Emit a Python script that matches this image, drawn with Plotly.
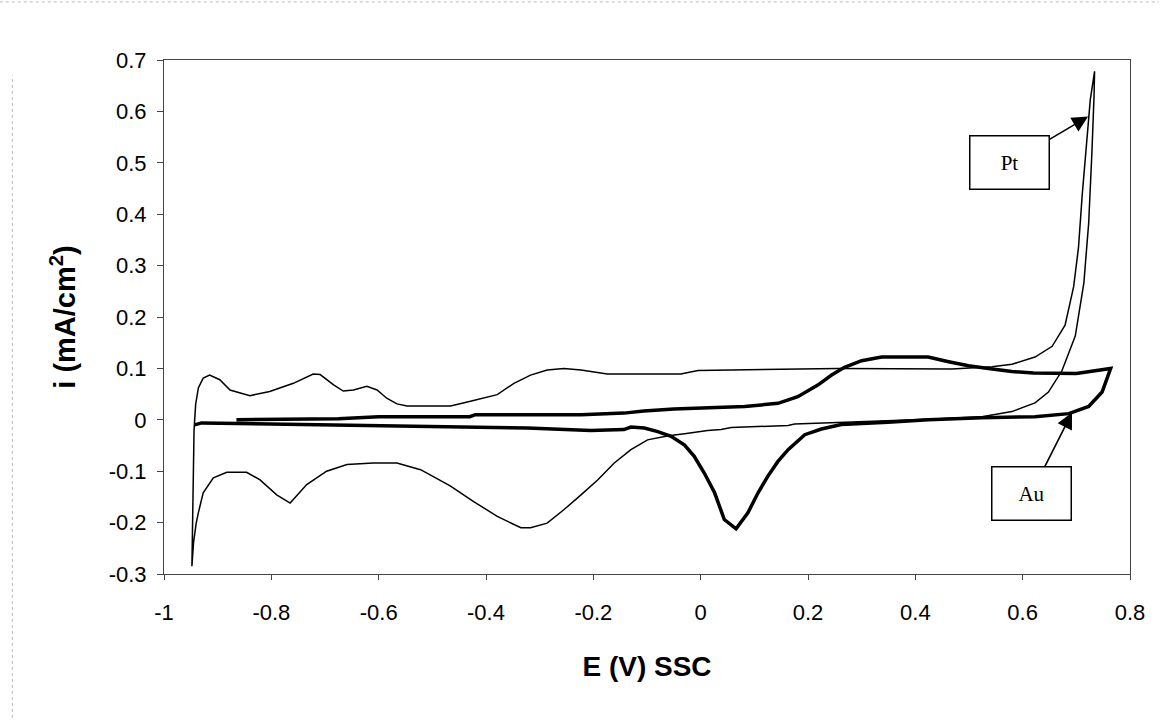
import plotly.graph_objects as go

# ---- data ----
pt_E = [-0.948, -0.947, -0.946, -0.944, -0.941, -0.936, -0.927, -0.915, -0.896, -0.877,
        -0.840, -0.803, -0.759, -0.722, -0.709, -0.684, -0.666, -0.647, -0.622, -0.603,
        -0.585, -0.566, -0.547, -0.504, -0.466, -0.429, -0.379, -0.348, -0.317, -0.286,
        -0.255, -0.223, -0.174, -0.037, -0.005, 0.057, 0.256, 0.468, 0.543, 0.580,
        0.600, 0.623, 0.655, 0.679, 0.695, 0.704, 0.711, 0.720, 0.726, 0.734,
        0.733, 0.729, 0.723, 0.714, 0.698, 0.673, 0.648, 0.623, 0.580, 0.524,
        0.424, 0.268, 0.175, 0.163, 0.057, 0.038, 0.013, -0.030, -0.060, -0.099,
        -0.130, -0.161, -0.192, -0.223, -0.255, -0.286, -0.317, -0.335, -0.379, -0.423,
        -0.466, -0.504, -0.522, -0.566, -0.610, -0.659, -0.697, -0.734, -0.765, -0.790,
        -0.821, -0.846, -0.883, -0.908, -0.927, -0.936, -0.940, -0.945, -0.948]
pt_i = [-0.285, -0.200, -0.100, -0.020, 0.030, 0.062, 0.081, 0.087, 0.078, 0.058,
        0.047, 0.055, 0.071, 0.089, 0.088, 0.068, 0.056, 0.058, 0.065, 0.058,
        0.042, 0.031, 0.027, 0.027, 0.027, 0.036, 0.049, 0.071, 0.087, 0.097,
        0.100, 0.097, 0.089, 0.089, 0.096, 0.097, 0.100, 0.099, 0.103, 0.108,
        0.114, 0.122, 0.143, 0.184, 0.259, 0.335, 0.438, 0.541, 0.623, 0.678,
        0.630, 0.520, 0.383, 0.266, 0.163, 0.095, 0.054, 0.033, 0.016, 0.006,
        0.001, -0.005, -0.008, -0.011, -0.015, -0.019, -0.021, -0.027, -0.031, -0.039,
        -0.058, -0.084, -0.117, -0.146, -0.175, -0.201, -0.210, -0.210, -0.188, -0.159,
        -0.129, -0.107, -0.097, -0.084, -0.084, -0.087, -0.100, -0.126, -0.162, -0.146,
        -0.117, -0.102, -0.102, -0.113, -0.142, -0.181, -0.201, -0.239, -0.285]

au_E = [-0.865, -0.675, -0.600, -0.430, -0.420, -0.223, -0.143, -0.106, -0.050, 0.038,
        0.082, 0.144, 0.181, 0.219, 0.244, 0.268, 0.300, 0.337, 0.424, 0.462,
        0.499, 0.536, 0.580, 0.620, 0.700, 0.764, 0.748, 0.723, 0.686, 0.623,
        0.524, 0.424, 0.349, 0.262, 0.225, 0.194, 0.163, 0.144, 0.125, 0.107,
        0.088, 0.066, 0.051, 0.044, 0.026, 0.007, -0.012, -0.030, -0.055, -0.080,
        -0.105, -0.130, -0.143, -0.205, -0.323, -0.563, -0.700, -0.865, -0.930, -0.943]
au_i = [0.000, 0.002, 0.006, 0.006, 0.010, 0.010, 0.013, 0.017, 0.021, 0.025,
        0.026, 0.032, 0.045, 0.068, 0.087, 0.102, 0.115, 0.122, 0.122, 0.113,
        0.105, 0.100, 0.094, 0.091, 0.090, 0.100, 0.054, 0.026, 0.012, 0.006,
        0.004, 0.000, -0.005, -0.009, -0.018, -0.029, -0.058, -0.081, -0.110, -0.142,
        -0.181, -0.212, -0.200, -0.194, -0.142, -0.104, -0.071, -0.049, -0.032, -0.023,
        -0.016, -0.014, -0.019, -0.021, -0.016, -0.012, -0.010, -0.008, -0.006, -0.010]

x_ticks = [-1, -0.8, -0.6, -0.4, -0.2, 0, 0.2, 0.4, 0.6, 0.8]
x_ticktext = ["-1", "-0.8", "-0.6", "-0.4", "-0.2", "0", "0.2", "0.4", "0.6", "0.8"]
y_ticks = [-0.3, -0.2, -0.1, 0, 0.1, 0.2, 0.3, 0.4, 0.5, 0.6, 0.7]
y_ticktext = ["-0.3", "-0.2", "-0.1", "0", "0.1", "0.2", "0.3", "0.4", "0.5", "0.6", "0.7"]

labels = ["Pt", "Au"]
label_pos = [(0.576, 0.50), (0.616, -0.143)]   # box centres (data units)
arrow_tips = [(0.722, 0.590), (0.692, 0.014)]  # arrow heads (data units)

FONT = "Liberation Sans, Arial, sans-serif"

fig = go.Figure()
fig.add_trace(go.Scatter(x=pt_E, y=pt_i, mode="lines", name="Pt",
                         line=dict(color="black", width=1.5), showlegend=False))
fig.add_trace(go.Scatter(x=au_E, y=au_i, mode="lines", name="Au",
                         line=dict(color="black", width=3.5), showlegend=False))

for lab, (bx, by), (tx, ty) in zip(labels, label_pos, arrow_tips):
    fig.add_annotation(x=tx, y=ty, xref="x", yref="y",
                       ax=bx, ay=by, axref="x", ayref="y",
                       text=lab, showarrow=True,
                       arrowhead=2, arrowsize=2.0, arrowwidth=1.6, arrowcolor="black",
                       font=dict(family="Liberation Serif, Times New Roman, serif", size=21, color="black"),
                       bordercolor="black", borderwidth=1.5, borderpad=1,
                       width=76, height=50, bgcolor="white")

# faint scan border artifacts
fig.add_shape(type="line", xref="paper", yref="paper",
              x0=-0.17, x1=1.03, y0=1.113, y1=1.113,
              line=dict(color="#bbbbbb", width=1, dash="dot"))
fig.add_shape(type="line", xref="paper", yref="paper",
              x0=-0.157, x1=-0.157, y0=-0.28, y1=0.97,
              line=dict(color="#bbbbbb", width=1, dash="dot"))

fig.update_layout(
    width=1161, height=720,
    margin=dict(l=164, r=31, t=60, b=146),
    paper_bgcolor="white", plot_bgcolor="white",
    font=dict(family=FONT, color="black"),
    xaxis=dict(range=[-1, 0.8], tickvals=x_ticks, ticktext=x_ticktext,
               ticks="outside", ticklen=5, tickcolor="#444", tickwidth=1,
               showgrid=False, zeroline=False,
               showline=True, linecolor="#444", linewidth=1, mirror=True,
               tickfont=dict(size=22, family=FONT), ticklabelstandoff=14,
               title=dict(text="<b>E (V) SSC</b>", font=dict(size=28, family=FONT),
                          standoff=31)),
    yaxis=dict(range=[-0.3, 0.7], tickvals=y_ticks, ticktext=y_ticktext,
               ticks="outside", ticklen=6, tickcolor="#444", tickwidth=1,
               showgrid=False, zeroline=False,
               showline=True, linecolor="#444", linewidth=1, mirror=True,
               tickfont=dict(size=22, family=FONT), ticklabelstandoff=6,
               title=dict(text="<b>i (mA/cm<sup>2</sup>)</b>", font=dict(size=29, family=FONT),
                          standoff=24)),
)

fig.write_html("out.html")
